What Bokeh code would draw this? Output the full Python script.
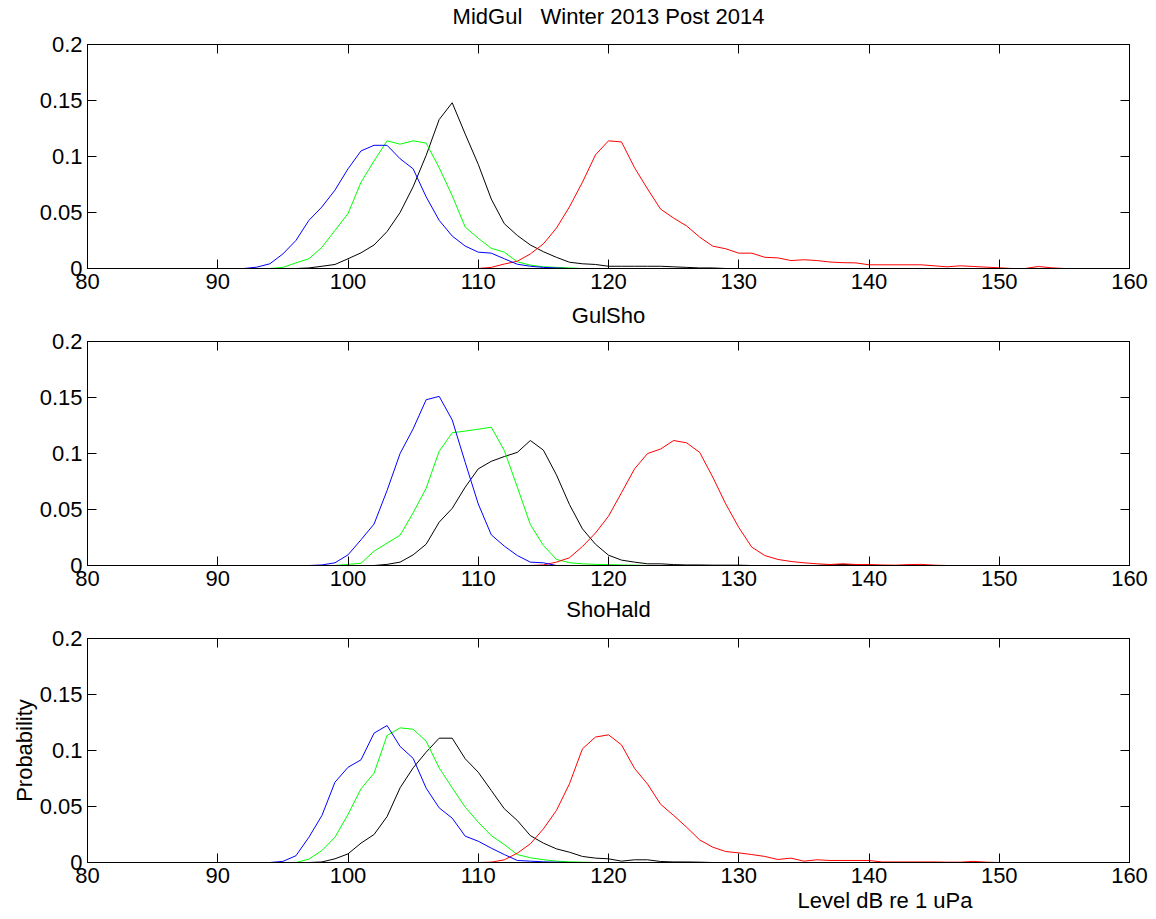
from bokeh.plotting import figure
from bokeh.models import Range1d, LinearAxis, FixedTicker, CustomJSTickFormatter, Title
from bokeh.layouts import column
from bokeh.embed import file_html
from bokeh.resources import INLINE

# ---------------- data ----------------
level_db = [80, 81, 82, 83, 84, 85, 86, 87, 88, 89,
            90, 91, 92, 93, 94, 95, 96, 97, 98, 99,
            100, 101, 102, 103, 104, 105, 106, 107, 108, 109,
            110, 111, 112, 113, 114, 115, 116, 117, 118, 119,
            120, 121, 122, 123, 124, 125, 126, 127, 128, 129,
            130, 131, 132, 133, 134, 135, 136, 137, 138, 139,
            140, 141, 142, 143, 144, 145, 146, 147, 148, 149,
            150, 151, 152, 153, 154, 155, 156, 157, 158, 159,
            160]

x_ticks = [80, 90, 100, 110, 120, 130, 140, 150, 160]
y_ticks = [0, 0.05, 0.1, 0.15, 0.2]

panel_titles = ["MidGul\u00a0\u00a0\u00a0Winter 2013 Post 2014", "GulSho", "ShoHald"]
x_label = "Level dB re 1 uPa"
y_label = "Probability"

# Panel 1
p1_blue = [0, 0, 0, 0, 0, 0, 0, 0, 0, 0,
           0, 0, 0, 0.0012, 0.0042, 0.013, 0.025, 0.043, 0.055, 0.070,
           0.089, 0.105, 0.110, 0.110, 0.098, 0.089, 0.064, 0.043, 0.029, 0.020,
           0.0146, 0.0137, 0.0087, 0.0038, 0.002, 0.001, 0.0005, 0, 0, 0,
           0, 0, 0, 0, 0, 0, 0, 0, 0, 0,
           0, 0, 0, 0, 0, 0, 0, 0, 0, 0,
           0, 0, 0, 0, 0, 0, 0, 0, 0, 0,
           0, 0, 0, 0, 0, 0, 0, 0, 0, 0,
           0]
p1_green = [0, 0, 0, 0, 0, 0, 0, 0, 0, 0,
            0, 0, 0, 0, 0, 0.001, 0.005, 0.0087, 0.019, 0.034,
            0.049, 0.077, 0.096, 0.114, 0.111, 0.114, 0.112, 0.090, 0.065, 0.037,
            0.027, 0.018, 0.0146, 0.006, 0.003, 0.0015, 0.001, 0.0005, 0, 0,
            0, 0, 0, 0, 0, 0, 0, 0, 0, 0,
            0, 0, 0, 0, 0, 0, 0, 0, 0, 0,
            0, 0, 0, 0, 0, 0, 0, 0, 0, 0,
            0, 0, 0, 0, 0, 0, 0, 0, 0, 0,
            0]
p1_black = [0, 0, 0, 0, 0, 0, 0, 0, 0, 0,
            0, 0, 0, 0, 0, 0, 0, 0.0005, 0.002, 0.0036,
            0.0087, 0.014, 0.021, 0.033, 0.050, 0.073, 0.101, 0.133, 0.148, 0.120,
            0.093, 0.062, 0.040, 0.0295, 0.021, 0.015, 0.010, 0.0056, 0.0042, 0.0036,
            0.002, 0.002, 0.002, 0.002, 0.002, 0.0015, 0.001, 0.0005, 0.0005, 0,
            0, 0, 0, 0, 0, 0, 0, 0, 0, 0,
            0, 0, 0, 0, 0, 0, 0, 0, 0, 0,
            0, 0, 0, 0, 0, 0, 0, 0, 0, 0,
            0]
p1_red = [0, 0, 0, 0, 0, 0, 0, 0, 0, 0,
          0, 0, 0, 0, 0, 0, 0, 0, 0, 0,
          0, 0, 0, 0, 0, 0, 0, 0, 0, 0,
          0, 0.001, 0.004, 0.0065, 0.013, 0.022, 0.036, 0.055, 0.077, 0.1015,
          0.114, 0.113, 0.090, 0.071, 0.053, 0.045, 0.038, 0.028, 0.020, 0.0176,
          0.0137, 0.0137, 0.010, 0.0095, 0.0071, 0.0078, 0.0071, 0.0058, 0.0052, 0.005,
          0.0033, 0.0033, 0.0033, 0.0033, 0.0033, 0.0024, 0.0015, 0.0024, 0.0018, 0.0012,
          0.0006, 0, 0, 0.0018, 0.0006, 0, 0, 0, 0, 0,
          0]

# Panel 2
p2_blue = [0, 0, 0, 0, 0, 0, 0, 0, 0, 0,
           0, 0, 0, 0, 0, 0, 0, 0, 0.0005, 0.0024,
           0.0095, 0.023, 0.037, 0.067, 0.100, 0.122, 0.148, 0.151, 0.130, 0.092,
           0.055, 0.0274, 0.0173, 0.0089, 0.003, 0.0024, 0, 0, 0, 0,
           0, 0, 0, 0, 0, 0, 0, 0, 0, 0,
           0, 0, 0, 0, 0, 0, 0, 0, 0, 0,
           0, 0, 0, 0, 0, 0, 0, 0, 0, 0,
           0, 0, 0, 0, 0, 0, 0, 0, 0, 0,
           0]
p2_green = [0, 0, 0, 0, 0, 0, 0, 0, 0, 0,
            0, 0, 0, 0, 0, 0, 0, 0, 0, 0,
            0.001, 0.002, 0.0128, 0.020, 0.027, 0.047, 0.069, 0.102, 0.1185, 0.120,
            0.1217, 0.1235, 0.1027, 0.070, 0.0366, 0.0179, 0.0055, 0.0025, 0.0015, 0.001,
            0.0008, 0.0005, 0.0003, 0, 0, 0, 0, 0, 0, 0,
            0, 0, 0, 0, 0, 0, 0, 0, 0, 0,
            0, 0, 0, 0, 0, 0, 0, 0, 0, 0,
            0, 0, 0, 0, 0, 0, 0, 0, 0, 0,
            0]
p2_black = [0, 0, 0, 0, 0, 0, 0, 0, 0, 0,
            0, 0, 0, 0, 0, 0, 0, 0, 0, 0,
            0, 0, 0, 0.001, 0.003, 0.0095, 0.019, 0.0387, 0.051, 0.070,
            0.0863, 0.093, 0.0973, 0.101, 0.1116, 0.103, 0.081, 0.0545, 0.0327, 0.019,
            0.0092, 0.0048, 0.003, 0.0015, 0.0015, 0.0008, 0.0005, 0.0005, 0.0003, 0.0003,
            0.0003, 0, 0, 0, 0, 0, 0, 0.0005, 0.001, 0.0005,
            0, 0, 0, 0, 0, 0, 0, 0, 0, 0,
            0, 0, 0, 0, 0, 0, 0, 0, 0, 0,
            0]
p2_red = [0, 0, 0, 0, 0, 0, 0, 0, 0, 0,
          0, 0, 0, 0, 0, 0, 0, 0, 0, 0,
          0, 0, 0, 0, 0, 0, 0, 0, 0, 0,
          0, 0, 0, 0, 0, 0.0005, 0.003, 0.0069, 0.017, 0.029,
          0.044, 0.065, 0.0863, 0.100, 0.104, 0.1116, 0.1095, 0.101, 0.079, 0.055,
          0.034, 0.0164, 0.0089, 0.0054, 0.0036, 0.0024, 0.0015, 0.0009, 0.0015, 0.0009,
          0.0009, 0.0005, 0.0003, 0.0008, 0.001, 0.0003, 0, 0, 0, 0,
          0, 0, 0, 0, 0, 0, 0, 0, 0, 0,
          0]

# Panel 3
p3_blue = [0, 0, 0, 0, 0, 0, 0, 0, 0, 0,
           0, 0, 0, 0, 0, 0.001, 0.006, 0.0226, 0.042, 0.0717,
           0.085, 0.0917, 0.1155, 0.1223, 0.1036, 0.093, 0.0664, 0.0488, 0.0396, 0.0235,
           0.019, 0.0128, 0.0071, 0.0018, 0.0012, 0.0006, 0.0003, 0, 0, 0,
           0, 0, 0, 0, 0, 0, 0, 0, 0, 0,
           0, 0, 0, 0, 0, 0, 0, 0, 0, 0,
           0, 0, 0, 0, 0, 0, 0, 0, 0, 0,
           0, 0, 0, 0, 0, 0, 0, 0, 0, 0,
           0]
p3_green = [0, 0, 0, 0, 0, 0, 0, 0, 0, 0,
            0, 0, 0, 0, 0, 0, 0, 0.003, 0.0107, 0.0226,
            0.0429, 0.0658, 0.0798, 0.1134, 0.1202, 0.119, 0.1083, 0.0845, 0.0667, 0.0494,
            0.036, 0.024, 0.016, 0.0071, 0.0042, 0.0025, 0.0012, 0.0006, 0.0003, 0,
            0, 0, 0, 0, 0, 0, 0, 0, 0, 0,
            0, 0, 0, 0, 0, 0, 0, 0, 0, 0,
            0, 0, 0, 0, 0, 0, 0, 0, 0, 0,
            0, 0, 0, 0, 0, 0, 0, 0, 0, 0,
            0]
p3_black = [0, 0, 0, 0, 0, 0, 0, 0, 0, 0,
            0, 0, 0, 0, 0, 0, 0, 0, 0.0005, 0.0033,
            0.0077, 0.0173, 0.025, 0.041, 0.0667, 0.0845, 0.0985, 0.111, 0.111, 0.0926,
            0.0806, 0.0643, 0.048, 0.0375, 0.024, 0.0173, 0.0122, 0.0092, 0.0054, 0.0039,
            0.0033, 0.0012, 0.0024, 0.0024, 0.0009, 0.0005, 0.0005, 0.0003, 0, 0,
            0, 0, 0, 0, 0, 0, 0, 0, 0, 0,
            0, 0, 0, 0, 0, 0, 0, 0, 0, 0,
            0, 0, 0, 0, 0, 0, 0, 0, 0, 0,
            0]
p3_red = [0, 0, 0, 0, 0, 0, 0, 0, 0, 0,
          0, 0, 0, 0, 0, 0, 0, 0, 0, 0,
          0, 0, 0, 0, 0, 0, 0, 0, 0, 0,
          0, 0.0003, 0.0024, 0.0083, 0.0167, 0.030, 0.0464, 0.0702, 0.1015, 0.112,
          0.114, 0.105, 0.084, 0.070, 0.052, 0.042, 0.0315, 0.0202, 0.0137, 0.0098,
          0.0086, 0.0071, 0.0054, 0.0027, 0.0039, 0.0012, 0.0024, 0.0018, 0.0018, 0.0018,
          0.0018, 0.0005, 0.0005, 0.0005, 0.0005, 0.0005, 0.0003, 0.0003, 0.001, 0.0003,
          0, 0, 0, 0, 0, 0, 0, 0, 0, 0,
          0]

panels = [
    {"black": p1_black, "green": p1_green, "red": p1_red, "blue": p1_blue},
    {"black": p2_black, "green": p2_green, "red": p2_red, "blue": p2_blue},
    {"black": p3_black, "green": p3_green, "red": p3_red, "blue": p3_blue},
]
line_colors = {"black": "#000000", "green": "#00ff00", "red": "#ff0000", "blue": "#0000ff"}

# ---------------- styling ----------------
FONT = "Liberation Sans"
FS = "22px"


def style_axis(ax, ticks, show_labels, fmt=None):
    ax.ticker = FixedTicker(ticks=ticks)
    ax.major_tick_in = 9
    ax.major_tick_out = 0
    ax.minor_tick_in = 0
    ax.minor_tick_out = 0
    ax.axis_line_color = "black"
    ax.axis_line_width = 1
    ax.major_tick_line_color = "black"
    ax.major_tick_line_width = 1
    if show_labels:
        ax.major_label_text_font = FONT
        ax.major_label_text_font_size = FS
        ax.major_label_text_color = "black"
        ax.major_label_standoff = 5
        if fmt is not None:
            ax.formatter = fmt
    else:
        ax.major_label_text_color = None
        ax.major_label_text_alpha = 0
        ax.major_label_text_font_size = "1px"
        ax.major_label_standoff = 0


def style_label(ax, text, standoff):
    ax.axis_label = text
    ax.axis_label_text_font = FONT
    ax.axis_label_text_font_size = FS
    ax.axis_label_text_font_style = "normal"
    ax.axis_label_text_color = "black"
    ax.axis_label_standoff = standoff


def make_panel(idx, top, bottom, title_standoff):
    p = figure(frame_width=1042, frame_height=224,
               x_range=Range1d(80, 160), y_range=Range1d(0, 0.2),
               output_backend="svg", toolbar_location=None,
               x_axis_type=None, y_axis_type=None,
               min_border_left=87, min_border_right=27,
               min_border_top=top, min_border_bottom=bottom)
    p.xgrid.visible = False
    p.ygrid.visible = False
    p.outline_line_color = "black"
    p.outline_line_width = 1
    p.background_fill_color = "white"
    p.border_fill_color = "white"

    yfmt = CustomJSTickFormatter(code="return (Math.round(tick*100)/100).toString();")

    bx = LinearAxis()
    style_axis(bx, x_ticks, True)
    p.add_layout(bx, "below")
    ly = LinearAxis()
    style_axis(ly, y_ticks, True, yfmt)
    p.add_layout(ly, "left")
    tx = LinearAxis()
    style_axis(tx, x_ticks, False)
    # the panel title is carried by the (otherwise unlabelled) top axis
    style_label(tx, panel_titles[idx], title_standoff)
    p.add_layout(tx, "above")
    ry = LinearAxis()
    style_axis(ry, y_ticks, False)
    p.add_layout(ry, "right")

    for name in ["black", "green", "red", "blue"]:
        p.line(level_db, panels[idx][name], line_color=line_colors[name], line_width=1)
    return p, ly


f1, _ = make_panel(0, 44, 29, 16)
f2, _ = make_panel(1, 44, 28, 14)
f3, ly3 = make_panel(2, 45, 57, 17)

style_label(ly3, y_label, 0)

f3.add_layout(Title(text=x_label, align="left", offset=710, vertical_align="top",
                    text_font=FONT, text_font_size=FS, text_font_style="normal",
                    text_color="black", standoff=5), "below")

layout = column(f1, f2, f3, spacing=0)

with open("out.html", "w") as fh:
    fh.write(file_html(layout, INLINE))
